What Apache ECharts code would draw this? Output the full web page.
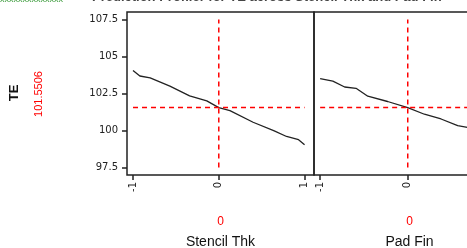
<!DOCTYPE html>
<html>
<head>
<meta charset="utf-8">
<script src="https://cdn.jsdelivr.net/npm/echarts@6/dist/echarts.min.js"></script>
<style>
    html, body { margin: 0; padding: 0; background: #fff; overflow: hidden; }
    /* wider than the window: the second panel runs off the right edge */
    #chart { width: 520px; height: 248px; }
</style>
</head>
<body>
<div id="chart"></div>
<script>
// Profiler data
const responseName = 'TE';
const responseValue = 101.5506;
const factorNames = ['Stencil Thk', 'Pad Fin'];
const factorCurrent = [0, 0];
const yTicks = [97.5, 100, 102.5, 105, 107.5];
const xTicks = [-1, 0, 1];

const stencilX = [-1, -0.92, -0.8, -0.57, -0.34, -0.14, 0, 0.13, 0.4, 0.64, 0.79, 0.93, 1];
const stencilTE = [104.06, 103.68, 103.56, 103.0, 102.34, 102.0, 101.55, 101.34, 100.56, 100.0, 99.6, 99.38, 99.04];

const padX = [-1, -0.855, -0.72, -0.59, -0.456, -0.23, 0, 0.19, 0.38, 0.57, 0.68, 0.75];
const padTE = [103.5, 103.34, 102.94, 102.85, 102.32, 101.96, 101.54, 101.1, 100.78, 100.33, 100.22, 100.1];

const chart = echarts.init(document.getElementById('chart'));

const font = '"Liberation Sans", Arial, sans-serif';
const tickFont = '"DejaVu Sans", sans-serif';

function xAxisFor(idx) {
    return {
        type: 'value',
        gridIndex: idx,
        min: -1.07,
        max: 1.11,
        splitLine: { show: false },
        axisLine: { show: false, onZero: false },
        axisTick: {
            show: true,
            customValues: xTicks,
            length: 5,
            lineStyle: { color: '#222', width: 1.5 }
        },
        axisLabel: {
            customValues: xTicks,
            rotate: 90,
            margin: 7,
            fontSize: 10,
            fontFamily: tickFont,
            color: '#222'
        },
        name: '{v|' + factorCurrent[idx] + '}\n{n|' + factorNames[idx] + '}',
        nameLocation: 'middle',
        nameGap: 36,
        nameTextStyle: {
            rich: {
                v: { color: '#ff0000', fontSize: 12, fontFamily: font, lineHeight: 22 },
                n: { color: '#111', fontSize: 14, fontFamily: font, lineHeight: 18 }
            }
        }
    };
}

function yAxisFor(idx) {
    return {
        type: 'value',
        gridIndex: idx,
        min: 97,
        max: 108,
        splitLine: { show: false },
        axisLine: { show: false, onZero: false },
        axisTick: {
            show: idx === 0,
            customValues: yTicks,
            length: 5,
            lineStyle: { color: '#222', width: 1.5 }
        },
        axisLabel: {
            show: idx === 0,
            customValues: yTicks,
            margin: 9,
            fontSize: 10,
            fontFamily: tickFont,
            color: '#222'
        }
    };
}

function refLines(idx) {
    const dash = { color: '#ff0000', width: 1.5, type: [5, 4] };
    return [
        {
            type: 'line', xAxisIndex: idx, yAxisIndex: idx, silent: true,
            showSymbol: false, lineStyle: dash,
            data: [[xTicks[0], responseValue], [xTicks[xTicks.length - 1], responseValue]]
        },
        {
            type: 'line', xAxisIndex: idx, yAxisIndex: idx, silent: true,
            showSymbol: false, lineStyle: dash,
            data: [[factorCurrent[idx], yTicks[0]], [factorCurrent[idx], yTicks[yTicks.length - 1]]]
        }
    ];
}

const curveStyle = { color: '#222', width: 1.3 };

const option = {
    animation: false,
    backgroundColor: '#fff',
    grid: [
        { left: 127, top: 12, width: 187, height: 163, outerBoundsMode: 'none', show: true, borderColor: '#222', borderWidth: 1.5 },
        { left: 314, top: 12, width: 191, height: 163, outerBoundsMode: 'none', show: true, borderColor: '#222', borderWidth: 1.5 }
    ],
    xAxis: [xAxisFor(0), xAxisFor(1)],
    yAxis: [yAxisFor(0), yAxisFor(1)],
    graphic: [
        {
            type: 'text', x: 14, y: 93, rotation: Math.PI / 2,
            style: { text: responseName, fill: '#111', font: 'bold 13px ' + font, align: 'center', verticalAlign: 'middle' }
        },
        {
            type: 'text', x: 39, y: 94, rotation: Math.PI / 2,
            style: { text: responseValue.toFixed(4), fill: '#ff0000', font: '11px ' + font, align: 'center', verticalAlign: 'middle' }
        },
        // header cut off by the top edge
        {
            type: 'text', x: 0, y: 4,
            style: { text: 'xxxxxxxxxxxxxx', fill: '#3a9a3a', font: '9px ' + font, verticalAlign: 'bottom' }
        },
        {
            type: 'text', x: 92, y: 4,
            style: { text: 'Prediction Profiler for TE across Stencil Thk and Pad Fin', fill: '#444', font: 'bold 13px ' + font, verticalAlign: 'bottom' }
        }
    ],
    series: [
        {
            type: 'line', xAxisIndex: 0, yAxisIndex: 0, showSymbol: false,
            lineStyle: curveStyle,
            data: stencilX.map((x, i) => [x, stencilTE[i]])
        },
        {
            type: 'line', xAxisIndex: 1, yAxisIndex: 1, showSymbol: false,
            lineStyle: curveStyle,
            data: padX.map((x, i) => [x, padTE[i]])
        }
    ].concat(refLines(0), refLines(1))
};

chart.setOption(option);
</script>
</body>
</html>
